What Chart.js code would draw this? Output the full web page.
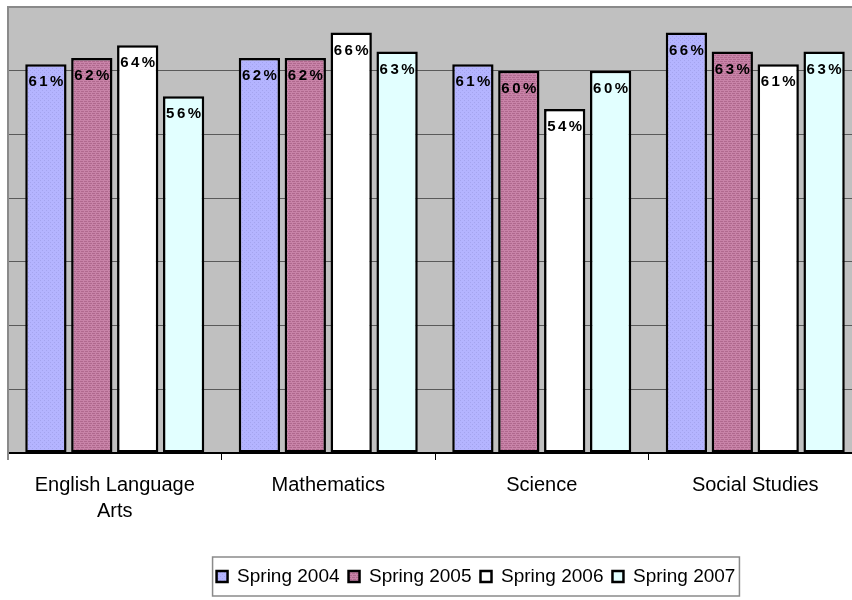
<!DOCTYPE html>
<html>
<head>
<meta charset="utf-8">
<script src="https://cdn.jsdelivr.net/npm/chart.js@4.4.1/dist/chart.umd.min.js"></script>
<style>
  html, body { margin: 0; padding: 0; background: #ffffff; overflow: hidden; }
  #wrap { width: 870px; height: 600px; position: relative; }
</style>
</head>
<body>
<div id="wrap"><canvas id="c" width="870" height="600"></canvas></div>
<script>
const categories = [['English Language', 'Arts'], 'Mathematics', 'Science', 'Social Studies'];
const seriesNames = ['Spring 2004', 'Spring 2005', 'Spring 2006', 'Spring 2007'];
const spring2004 = [61, 62, 61, 66];
const spring2005 = [62, 62, 60, 63];
const spring2006 = [64, 66, 54, 61];
const spring2007 = [56, 63, 60, 63];
const yTicks = [0, 10, 20, 30, 40, 50, 60, 70];

function makePattern(base, dot, kind) {
  const c = document.createElement('canvas');
  c.width = 4; c.height = 4;
  const x = c.getContext('2d');
  x.fillStyle = base; x.fillRect(0, 0, 4, 4);
  x.fillStyle = dot;
  if (kind === 'dots') {
    x.fillRect(0, 0, 1, 1); x.fillRect(2, 2, 1, 1);
  } else {
    x.fillRect(0, 1, 3, 1); x.fillRect(1, 3, 3, 1);
  }
  return x.createPattern(c, 'repeat');
}
const fill2004 = makePattern('#b4b4ff', '#a4a4ee', 'dots');
const fill2005 = makePattern('#c883a8', '#b0698e', 'rows');
const fills = [fill2004, fill2005, '#ffffff', '#e2ffff'];
const allSeries = [spring2004, spring2005, spring2006, spring2007];

const plotBg = {
  id: 'plotBg',
  afterLayout(chart) {
    const lg = chart.legend;
    if (lg) { lg.left += 41; lg.right += 41; }
  },
  beforeDraw(chart) {
    const { ctx, chartArea: a } = chart;
    ctx.save();
    ctx.fillStyle = '#c0c0c0';
    ctx.fillRect(a.left, a.top, a.right - a.left, a.bottom - a.top);
    ctx.restore();
  },
  afterDatasetsDraw(chart) {
    const { ctx, chartArea: a } = chart;
    ctx.save();
    ctx.strokeStyle = '#8a8a8a';
    ctx.lineWidth = 2;
    ctx.beginPath();
    ctx.moveTo(a.left, a.bottom + 7);
    ctx.lineTo(a.left, a.top);
    ctx.lineTo(a.right + 20, a.top);
    ctx.stroke();
    ctx.restore();
  }
};

const barLabels = {
  id: 'barLabels',
  afterDatasetsDraw(chart) {
    const ctx = chart.ctx;
    ctx.save();
    ctx.font = 'bold 15px "Liberation Sans", Arial, sans-serif';
    ctx.fillStyle = '#000';
    ctx.textBaseline = 'middle';
    ctx.textAlign = 'left';
    ctx.letterSpacing = '2.5px';
    chart.data.datasets.forEach((ds, i) => {
      chart.getDatasetMeta(i).data.forEach((bar, j) => {
        const txt = ds.data[j] + '%';
        const w = ctx.measureText(txt).width - 2.5;
        ctx.fillText(txt, bar.x - w / 2, bar.y + 18);
      });
    });
    ctx.restore();
  }
};

const legendBox = {
  id: 'legendBox',
  afterDraw(chart) {
    const lg = chart.legend;
    if (!lg || !lg.legendHitBoxes || !lg.legendHitBoxes.length) return;
    const hb = lg.legendHitBoxes;
    let l = Infinity, r = -Infinity, t = Infinity, b = -Infinity;
    hb.forEach(h => { l = Math.min(l, h.left); r = Math.max(r, h.left + h.width); t = Math.min(t, h.top); b = Math.max(b, h.top + h.height); });
    const ctx = chart.ctx;
    ctx.save();
    ctx.strokeStyle = '#8a8a8a';
    ctx.lineWidth = 1.5;
    ctx.strokeRect(l - 4, t - 10, (r - l) + 8, (b - t) + 20);
    ctx.restore();
  }
};

new Chart(document.getElementById('c'), {
  type: 'bar',
  data: {
    labels: categories,
    datasets: seriesNames.map((name, i) => ({
      label: name,
      data: allSeries[i],
      backgroundColor: fills[i],
      borderColor: '#000000',
      borderWidth: 2.5,
      borderSkipped: false,
      categoryPercentage: 0.86,
      barPercentage: 0.9
    }))
  },
  options: {
    responsive: false,
    animation: false,
    devicePixelRatio: 1,
    layout: { padding: { left: 8, top: 7, right: 8, bottom: 4 } },
    plugins: {
      legend: {
        position: 'bottom',
        labels: {
          boxWidth: 11,
          boxHeight: 11,
          padding: 9,
          color: '#000',
          font: { family: '"Liberation Sans", Arial, sans-serif', size: 19 }
        }
      },
      tooltip: { enabled: false }
    },
    scales: {
      x: {
        grid: { drawOnChartArea: false, drawTicks: true, tickLength: 7, color: '#000', offset: true, lineWidth: 1 },
        border: { display: true, color: '#000', width: 2 },
        ticks: {
          color: '#000',
          padding: 12,
          maxRotation: 0,
          autoSkip: false,
          font: { family: '"Liberation Sans", Arial, sans-serif', size: 20, lineHeight: 1.3 }
        },
        afterFit(scale) { scale.height = 105; }
      },
      y: {
        min: 0,
        max: 70,
        afterBuildTicks(scale) { scale.ticks = yTicks.map(v => ({ value: v })); },
        ticks: { display: false },
        grid: { color: '#5a5a5a', lineWidth: 1, drawTicks: false },
        border: { display: false },
        afterFit(scale) { scale.width = 0; }
      }
    }
  },
  plugins: [plotBg, barLabels, legendBox]
});
</script>
</body>
</html>
